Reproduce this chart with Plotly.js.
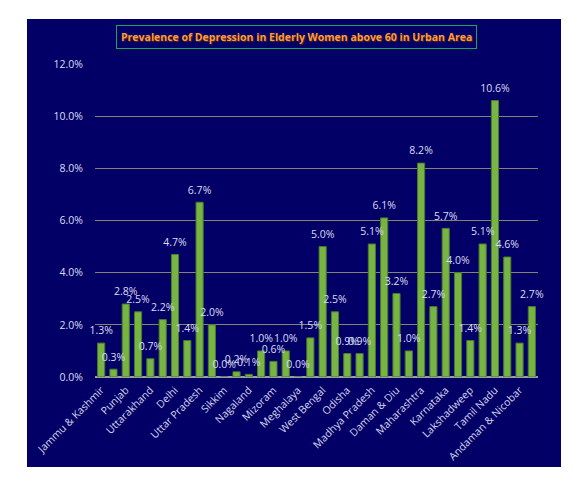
<!DOCTYPE html>
<html>
<head>
<meta charset="utf-8">
<script src="https://cdn.plot.ly/plotly-3.0.1.min.js"></script>
<style>
html,body{margin:0;padding:0;background:#ffffff;}
#chart{position:absolute;left:27px;top:19px;width:534px;height:448px;}
</style>
</head>
<body>
<div id="chart"></div>
<script>
const states = ["Jammu & Kashmir","Himachal Pradesh","Punjab","Chandigarh","Uttarakhand","Haryana","Delhi","Rajasthan","Uttar Pradesh","Bihar","Sikkim","Arunachal Pradesh","Nagaland","Manipur","Mizoram","Tripura","Meghalaya","Assam","West Bengal","Jharkhand","Odisha","Chhattisgarh","Madhya Pradesh","Gujarat","Daman & Diu","Dadra & Nagar Haveli","Maharashtra","Andhra Pradesh","Karnataka","Goa","Lakshadweep","Kerala","Tamil Nadu","Puducherry","Andaman & Nicobar","Telangana"];
const prevalence = [1.3,0.3,2.8,2.5,0.7,2.2,4.7,1.4,6.7,2.0,0.0,0.2,0.1,1.0,0.6,1.0,0.0,1.5,5.0,2.5,0.9,0.9,5.1,6.1,3.2,1.0,8.2,2.7,5.7,4.0,1.4,5.1,10.6,4.6,1.3,2.7];
const shownLabels = states.filter((s,i)=>i%2===0);
const yTicks = [0,2,4,6,8,10,12];
const titleText = "Prevalence of Depression in Elderly Women above 60 in Urban Area";
const FONT = 'Open Sans, Liberation Sans, sans-serif';

const bars = {
  type:'bar',
  x: states,
  y: prevalence,
  marker:{color:'#78b443', line:{color:'#4a7a26', width:1}},
  hoverinfo:'x+y'
};
const labels = {
  type:'scatter', mode:'markers+text',
  x: states, y: prevalence,
  texttemplate:'%{y:.1f}%',
  textposition:'top center',
  marker:{size:8, color:'rgba(0,0,0,0)', line:{width:0}},
  cliponaxis:false,
  textfont:{family:FONT, size:10.5, color:'#dcdcf2'},
  hoverinfo:'skip'
};

const layout = {
  width:534, height:448,
  paper_bgcolor:'#020066', plot_bgcolor:'#020066',
  margin:{l:68, r:23, t:45, b:90},
  bargap:0.42,
  showlegend:false,
  font:{family:FONT, color:'#dcdcf2'},
  xaxis:{
    type:'category', range:[-0.5, 35.5], autorange:false,
    tickmode:'array', tickvals:shownLabels, ticktext:shownLabels,
    tickangle:-45, tickfont:{size:10.5, color:'#d6d6ee'},
    showgrid:false, showline:false, ticks:'outside', ticklen:2, tickcolor:'rgba(0,0,0,0)', zeroline:false
  },
  yaxis:{
    range:[0,12], autorange:false, tickvals:yTicks, ticktext:yTicks.map(v=>v.toFixed(1)+'%'),
    showgrid:true, gridcolor:'#83836f', gridwidth:1,
    zeroline:true, zerolinecolor:'#9a9aa8', zerolinewidth:1.5,
    ticks:'outside', ticklen:9, tickcolor:'rgba(0,0,0,0)',
    tickfont:{size:10.5, color:'#dcdcf2'}, showline:false
  },
  annotations:[{
    xref:'paper', yref:'paper', x:0.455, y:1.086, xanchor:'center', yanchor:'middle',
    text:'<b>'+titleText+'</b>', showarrow:false,
    font:{family:FONT, size:10.5, color:'#ff9a48', shadow:'1px 1px 1px #6a2a00'},
    bordercolor:'#1fa35a', borderwidth:1, borderpad:4, bgcolor:'#020066'
  }]
};

Plotly.newPlot('chart',[bars, labels],layout,{displayModeBar:false, staticPlot:true});
</script>
</body>
</html>
